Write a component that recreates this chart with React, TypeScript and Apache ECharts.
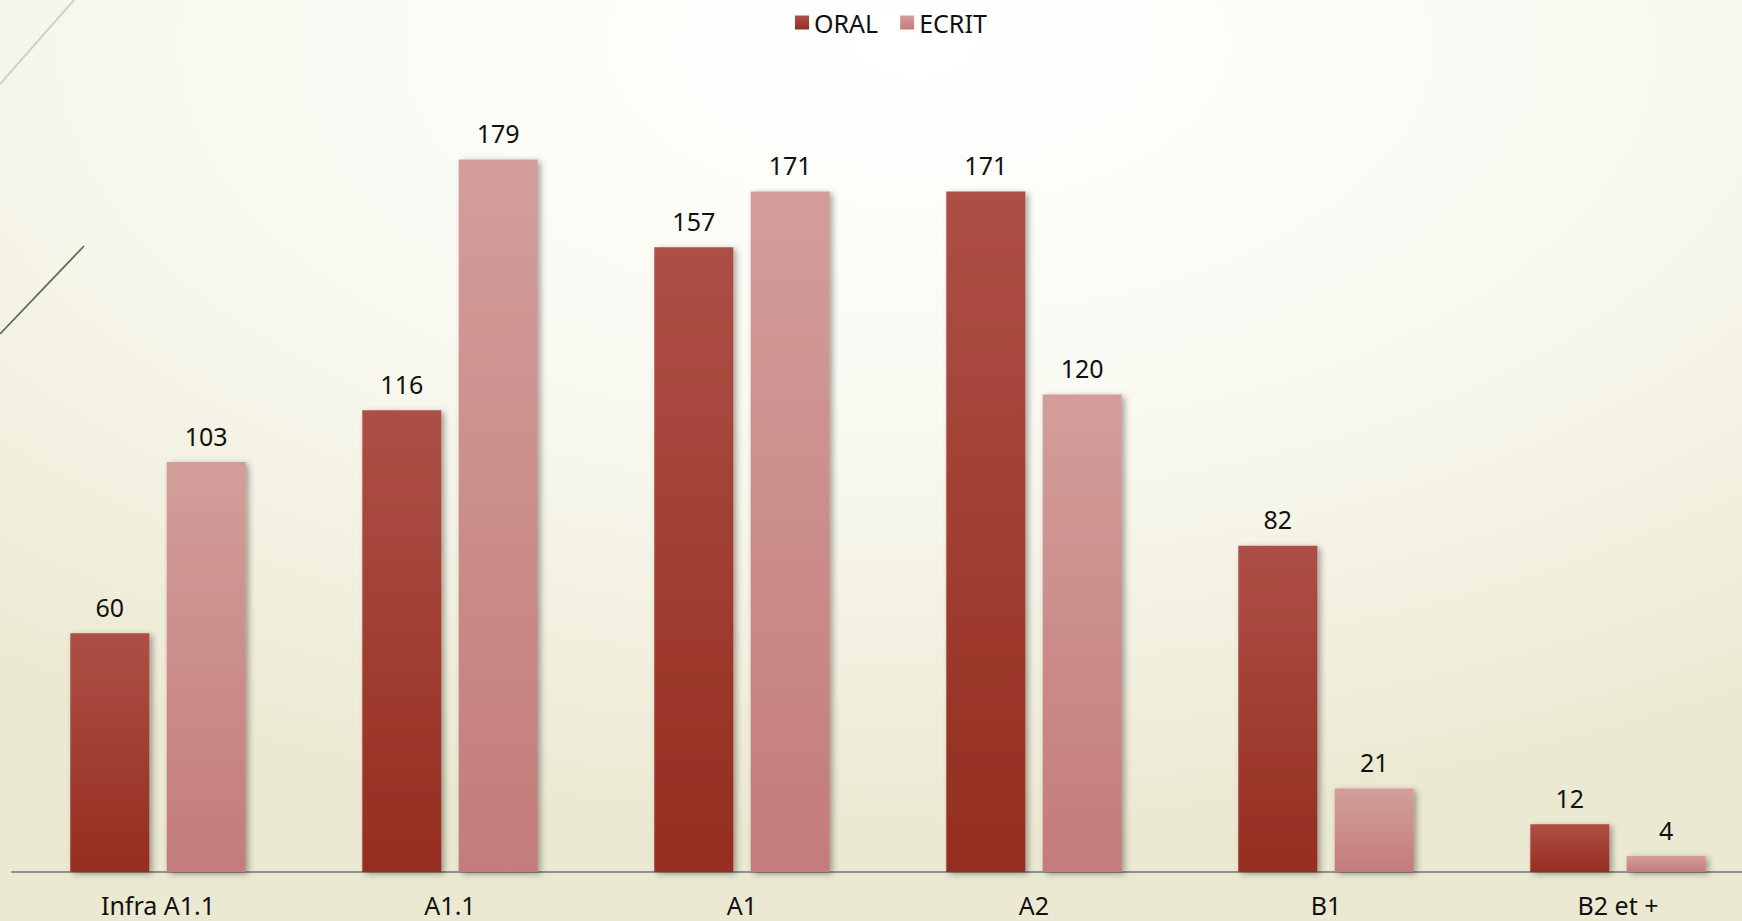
import React, { useEffect, useRef } from "react";
import * as echarts from "echarts";

const categories = ["Infra A1.1", "A1.1", "A1", "A2", "B1", "B2 et +"];
const oralValues = [60, 116, 157, 171, 82, 12];
const ecritValues = [103, 179, 171, 120, 21, 4];
const seriesNames = ["ORAL", "ECRIT"];

const FONT = "'Noto Sans', sans-serif";

export default function App() {
  const ref = useRef<HTMLDivElement>(null);
  useEffect(() => {
    if (!ref.current) return;
    const chart = echarts.init(ref.current, undefined, { renderer: "svg" });
    const shadow = {
      shadowColor: "rgba(0,0,0,0.35)",
      shadowBlur: 6,
      shadowOffsetX: 3,
      shadowOffsetY: 2,
    };
    chart.setOption({
      animation: false,
      backgroundColor: {
        type: "radial",
        x: 0.52,
        y: 0.05,
        r: 0.85,
        colorStops: [
          { offset: 0, color: "#ffffff" },
          { offset: 0.45, color: "#fafaf3" },
          { offset: 1, color: "#ece9d2" },
        ],
      },
      graphic: [
        {
          type: "line",
          shape: { x1: 0, y1: 84, x2: 74, y2: 0 },
          style: { stroke: "#d0d3c4", lineWidth: 2 },
        },
        {
          type: "line",
          shape: { x1: 0, y1: 334, x2: 84, y2: 246 },
          style: { stroke: "#5c6c4c", lineWidth: 1.8 },
        },
      ],
      legend: {
        data: seriesNames,
        left: 790,
        top: 5,
        itemWidth: 14,
        itemHeight: 14,
        itemGap: 22,
        icon: "rect",
        textStyle: { fontFamily: FONT, fontSize: 25, color: "#111" },
      },
      grid: { left: 12, right: 0, top: 76, bottom: 49, containLabel: false },
      xAxis: {
        type: "category",
        data: categories,
        axisLine: { lineStyle: { color: "#909090", width: 2 } },
        axisTick: { show: false },
        axisLabel: {
          fontFamily: FONT,
          fontSize: 25,
          color: "#111",
          margin: 20,
        },
      },
      yAxis: {
        type: "value",
        min: 0,
        max: 200,
        show: false,
        splitLine: { show: false },
      },
      series: [
        {
          name: seriesNames[0],
          type: "bar",
          data: oralValues,
          barWidth: 79,
          barGap: "22%",
          itemStyle: {
            color: new echarts.graphic.LinearGradient(0, 0, 0, 1, [
              { offset: 0, color: "#ad4f46" },
              { offset: 1, color: "#952d1f" },
            ]),
            ...shadow,
          },
          label: {
            show: true,
            position: "top",
            distance: 14,
            fontFamily: FONT,
            fontSize: 25,
            color: "#111",
          },
        },
        {
          name: seriesNames[1],
          type: "bar",
          data: ecritValues,
          barWidth: 79,
          itemStyle: {
            color: new echarts.graphic.LinearGradient(0, 0, 0, 1, [
              { offset: 0, color: "#d39e9a" },
              { offset: 1, color: "#c37c7a" },
            ]),
            ...shadow,
          },
          label: {
            show: true,
            position: "top",
            distance: 14,
            fontFamily: FONT,
            fontSize: 25,
            color: "#111",
          },
        },
      ],
    });
    return () => chart.dispose();
  }, []);
  return (
    <div
      style={{
        position: "absolute",
        left: 0,
        top: 0,
        width: 1742,
        height: 921,
        overflow: "hidden",
      }}
    >
      <div ref={ref} style={{ width: 1764, height: 921 }} />
    </div>
  );
}
